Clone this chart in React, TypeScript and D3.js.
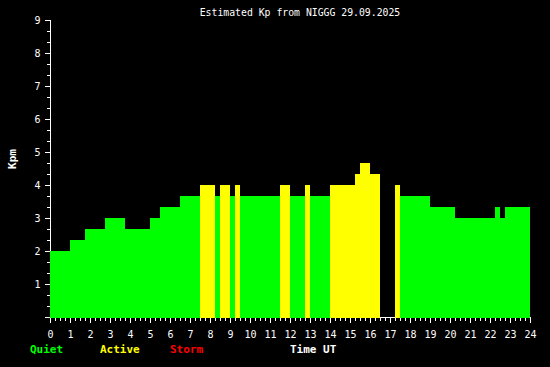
import React from "react";
import * as d3 from "d3";

// Kp segments: start hour of each segment and its value (null = no data)
const segStart: number[] = [
  0, 1, 1.75, 2.75, 3.75, 5, 5.5, 6.5, 7.5, 8.25, 8.5, 9.0, 9.25, 9.5, 11.5, 12.0,
  12.75, 13.0, 14.0, 15.25, 15.5, 16.0, 16.5, 17.25, 17.5, 19.0, 20.25, 22.25, 22.5, 22.75,
];
const kpValues: (number | null)[] = [
  2.0, 2.333, 2.667, 3.0, 2.667, 3.0, 3.333, 3.667, 4.0, 3.667, 4.0, 3.667, 4.0, 3.667, 4.0, 3.667,
  4.0, 3.667, 4.0, 4.333, 4.667, 4.333, null, 4.0, 3.667, 3.333, 3.0, 3.333, 3.0, 3.333,
];
const dayEnd = 24;
const xTickLabels: number[] = d3.range(0, 25);
const yTickLabels: number[] = [1, 2, 3, 4, 5, 6, 7, 8, 9];
const title = "Estimated Kp from NIGGG 29.09.2025";
const legendLabels: string[] = ["Quiet", "Active", "Storm"];
const legendColors: string[] = ["#00ff00", "#ffff00", "#ff0000"];

const W = 550;
const H = 367;
const FONT = "'DejaVu Sans Mono', monospace";

function colorFor(v: number): string {
  if (v >= 5) return "#ff0000";
  if (v >= 4) return "#ffff00";
  return "#00ff00";
}

export default function App() {
  const x = d3.scaleLinear().domain([0, 24]).range([50, 530]);
  const y = d3.scaleLinear().domain([0, 9]).range([317, 20]);

  const bars = segStart.map((s, i) => {
    const e = i + 1 < segStart.length ? segStart[i + 1] : dayEnd;
    return { s, e, v: kpValues[i] };
  });

  const minorX = d3.range(0, 24.001, 0.25);
  const minorY = d3.range(0, 27.001, 1).map((k) => k / 3);

  return (
    <svg
      width={W}
      height={H}
      style={{ position: "absolute", left: 0, top: 0, display: "block" }}
      shapeRendering="crispEdges"
    >
      <rect x={0} y={0} width={W} height={H} fill="#000" />
      <text x={300} y={15.5} fill="#fff" fontFamily={FONT} fontSize={9.8} textAnchor="middle">
        {title}
      </text>

      {/* y axis */}
      <line x1={50.5} x2={50.5} y1={y(9)} y2={318} stroke="#fff" strokeWidth={1} />
      {minorY.map((t, i) => {
        const major = Math.abs(t - Math.round(t)) < 1e-6;
        return (
          <line
            key={i}
            x1={major ? 45 : 47}
            x2={50}
            y1={Math.round(y(t)) + 0.5}
            y2={Math.round(y(t)) + 0.5}
            stroke="#fff"
          />
        );
      })}
      {yTickLabels.map((t) => (
        <text
          key={t}
          x={40.5}
          y={Math.round(y(t)) + 4}
          fill="#fff"
          fontFamily={FONT}
          fontSize={10}
          textAnchor="end"
        >
          {t}
        </text>
      ))}

      {/* x axis */}
      <line x1={50} x2={531} y1={317.5} y2={317.5} stroke="#fff" strokeWidth={1} />

      {/* bars */}
      {bars.map((b, i) =>
        b.v == null ? null : (
          <rect
            key={i}
            x={x(b.s)}
            y={y(b.v)}
            width={x(b.e) - x(b.s)}
            height={317 - y(b.v) + 0.5}
            fill={colorFor(b.v)}
          />
        )
      )}

      {minorX.map((t, i) => {
        const major = Math.abs(t - Math.round(t)) < 1e-6;
        return (
          <line
            key={i}
            x1={Math.round(x(t)) + 0.5}
            x2={Math.round(x(t)) + 0.5}
            y1={318}
            y2={major ? 323 : 321}
            stroke="#fff"
          />
        );
      })}
      {xTickLabels.map((t) => (
        <text
          key={t}
          x={x(t) + 0.5}
          y={338}
          fill="#fff"
          fontFamily={FONT}
          fontSize={10}
          textAnchor="middle"
        >
          {t}
        </text>
      ))}

      {/* y label */}
      <text
        transform="translate(16,159) rotate(-90)"
        fill="#fff"
        fontFamily={FONT}
        fontSize={11}
        fontWeight="bold"
        textAnchor="middle"
      >
        Kpm
      </text>

      {/* legend */}
      {legendLabels.map((l, i) => (
        <text
          key={l}
          x={30 + i * 70}
          y={353}
          fill={legendColors[i]}
          fontFamily={FONT}
          fontSize={11}
          fontWeight="bold"
        >
          {l}
        </text>
      ))}
      <text x={290} y={353} fill="#fff" fontFamily={FONT} fontSize={11} fontWeight="bold">
        Time UT
      </text>
    </svg>
  );
}
